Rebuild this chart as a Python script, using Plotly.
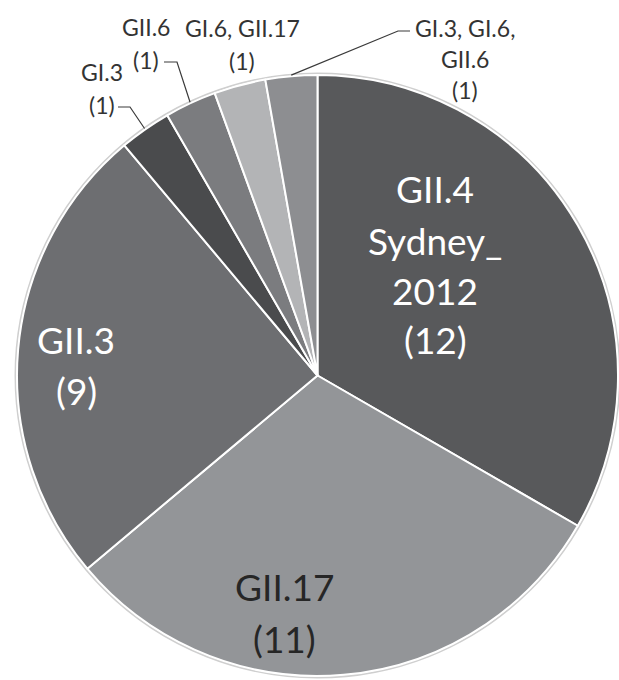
import math
import plotly.graph_objects as go

# ---- data ----
labels = ["GII.4 Sydney_2012", "GII.17", "GII.3", "GI.3", "GII.6",
          "GI.6, GII.17", "GI.3, GI.6, GII.6"]
values = [12, 11, 9, 1, 1, 1, 1]
colors = ["#58595b", "#939598", "#6d6e71", "#4a4b4d", "#7b7c7f",
          "#b3b4b6", "#8d8e91"]

W, H = 619, 680
FONT = "Lato"
BIG = 37
SMALL = 23

# pie domain in pixels
DX0, DX1, DY0, DY1 = 17, 618, 74, 677


def px(x):
    return x / W


def py(y):
    return 1 - y / H


fig = go.Figure(go.Pie(
    labels=labels, values=values, sort=False, direction="clockwise",
    rotation=0, textinfo="none", hoverinfo="label+value",
    marker=dict(colors=colors, line=dict(color="white", width=2)),
    domain=dict(x=[px(DX0), px(DX1)], y=[py(DY1), py(DY0)]),
    showlegend=False,
))

# geometry derived from the domain
cx = (DX0 + DX1) / 2
cy = (DY0 + DY1) / 2
R = min(DX1 - DX0, DY1 - DY0) / 2
total = sum(values)


def edge_point(i, extra=0.0):
    start = sum(values[:i]) / total * 360
    mid = start + values[i] / total * 360 / 2
    a = math.radians(mid)
    return cx + (R + extra) * math.sin(a), cy - (R + extra) * math.cos(a)


annotations = []
shapes = []

# subtle halo around the pie
shapes.append(dict(type="circle", xref="paper", yref="paper",
                   x0=px(cx - R - 1.5), x1=px(cx + R + 1.5),
                   y0=py(cy + R + 1.5), y1=py(cy - R - 1.5),
                   line=dict(color="#cfcfcf", width=2), layer="below"))


def add_lines(lines, x, ys, size, color):
    for t, y in zip(lines, ys):
        annotations.append(dict(text=t, x=px(x), y=py(y), xref="paper",
                                yref="paper", showarrow=False,
                                xanchor="center", yanchor="middle",
                                font=dict(family=FONT, size=size, color=color)))


# large inside labels
add_lines(["GII.4", "Sydney_", "2012", "(12)"], 435, [188, 240, 290, 339], BIG, "white")
add_lines(["GII.17", "(11)"], 284, [586, 638], BIG, "#262626")
add_lines(["GII.3", "(9)"], 76, [339, 390], BIG, "white")

# small outside labels
small_col = "#333333"
add_lines(["GI.3", "(1)"], 102, [72, 105], SMALL, small_col)
add_lines(["GII.6", "(1)"], 146, [27, 60], SMALL, small_col)
add_lines(["GI.6, GII.17", "(1)"], 242, [28, 61], SMALL, small_col)
add_lines(["GI.3, GI.6,", "GII.6", "(1)"], 465, [28, 59, 90], SMALL, small_col)

# leader lines (elbows) ending at slice edge midpoints
leaders = [
    (3, [(118, 107), (130, 107)]),
    (4, [(164, 62), (177, 62)]),
    (6, [(410, 31), (398, 31)]),
]
for idx, pts in leaders:
    ex, ey = edge_point(idx, extra=1)
    path_pts = pts + [(ex, ey)]
    path = "M " + " L ".join(f"{px(x)},{py(y)}" for x, y in path_pts)
    shapes.append(dict(type="path", xref="paper", yref="paper", path=path,
                       line=dict(color="#3a3a3a", width=1.2)))

fig.update_layout(
    width=W, height=H, margin=dict(l=0, r=0, t=0, b=0),
    paper_bgcolor="white", plot_bgcolor="white",
    annotations=annotations, shapes=shapes,
)

fig.write_html("out.html")
